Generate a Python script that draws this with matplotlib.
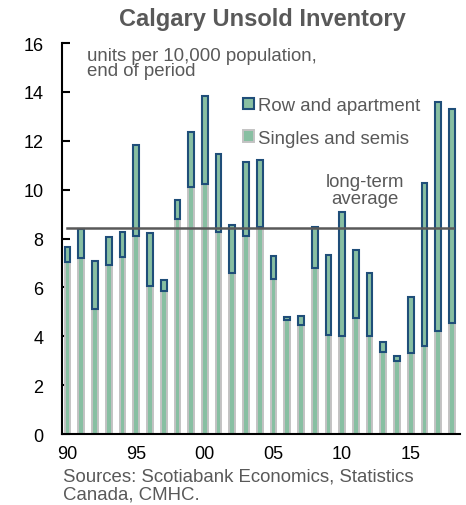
import numpy as np
from matplotlib import pyplot as plt

plt.rcParams['font.family'] = ['Liberation Sans', 'DejaVu Sans']

years = np.arange(1990, 2019)
singles = [7.06, 7.19, 5.11, 6.91, 7.23, 8.09, 6.07, 5.85, 8.80, 10.13,
           10.23, 8.28, 6.61, 8.12, 8.48, 6.34, 4.68, 4.47, 6.81, 4.05,
           4.00, 4.75, 4.00, 3.38, 3.00, 3.34, 3.61, 4.23, 4.54]
total = [7.64, 8.39, 7.08, 8.07, 8.29, 11.82, 8.21, 6.31, 9.57, 12.38,
         13.84, 11.44, 8.57, 11.12, 11.22, 7.27, 4.80, 4.84, 8.48, 7.34,
         9.07, 7.52, 6.60, 3.78, 3.20, 5.61, 10.28, 13.60, 13.32]
row_apt = [t - s for t, s in zip(total, singles)]
long_term_avg = 8.43
xtick_labels = ['90', '95', '00', '05', '10', '15']

green = '#88BFA2'
blue = '#1F4E79'
shade = '#C3C3C3'
txt = '#595959'

fig = plt.figure(figsize=(4.66, 5.06), dpi=100)
ax = fig.add_axes([0.132, 0.140, 0.855, 0.773])

# singles and semis (green with grey shadow)
ax.bar(years, singles, width=0.42, color=green, edgecolor=shade, linewidth=1.4,
       label='Singles and semis', zorder=2)
# row and apartment stacked on top
ax.bar(years, row_apt, bottom=singles, width=0.42, color=green, edgecolor=blue,
       linewidth=1.5, label='Row and apartment', zorder=3)

ax.plot([years[0] - 0.05, years[-1] + 0.1], [long_term_avg, long_term_avg],
        color='#595959', linewidth=1.8, zorder=4)

ax.set_xlim(1989.56, 2018.58)
ax.set_ylim(0, 16)
ax.set_yticks(range(0, 17, 2))
ax.set_xticks(range(1990, 2016, 5))
ax.set_xticklabels(xtick_labels)
ax.tick_params(axis='y', direction='in', length=6, width=1.5, labelsize=13,
               labelcolor='black', pad=13)
ax.tick_params(axis='x', length=0, labelsize=13, labelcolor='black', pad=8)
for side in ['top', 'right']:
    ax.spines[side].set_visible(False)
for side in ['left', 'bottom']:
    ax.spines[side].set_linewidth(1.5)

fig.text(0.562, 0.961, 'Calgary Unsold Inventory', ha='center', va='center',
         fontsize=17, fontweight='bold', color=txt)
ax.text(1991.4, 15.85, 'units per 10,000 population,\nend of period', ha='left',
        va='top', fontsize=13.4, color=txt, linespacing=0.9)
ax.text(2011.65, 10.0, 'long-term\naverage', ha='center', va='center',
        fontsize=13.4, color=txt, linespacing=1.0)

h, l = ax.get_legend_handles_labels()
ax.legend(h[::-1], l[::-1], loc='upper left', bbox_to_anchor=(0.455, 0.862),
          frameon=False, fontsize=13.4, labelcolor=txt, handlelength=0.6,
          handleheight=0.6, handletextpad=0.2, labelspacing=0.85,
          borderaxespad=0, borderpad=0)

fig.text(0.135, 0.074, 'Sources: Scotiabank Economics, Statistics\nCanada, CMHC.',
         ha='left', va='top', fontsize=13.4, color=txt, linespacing=1.1)

fig.savefig('out.png', dpi=100)
